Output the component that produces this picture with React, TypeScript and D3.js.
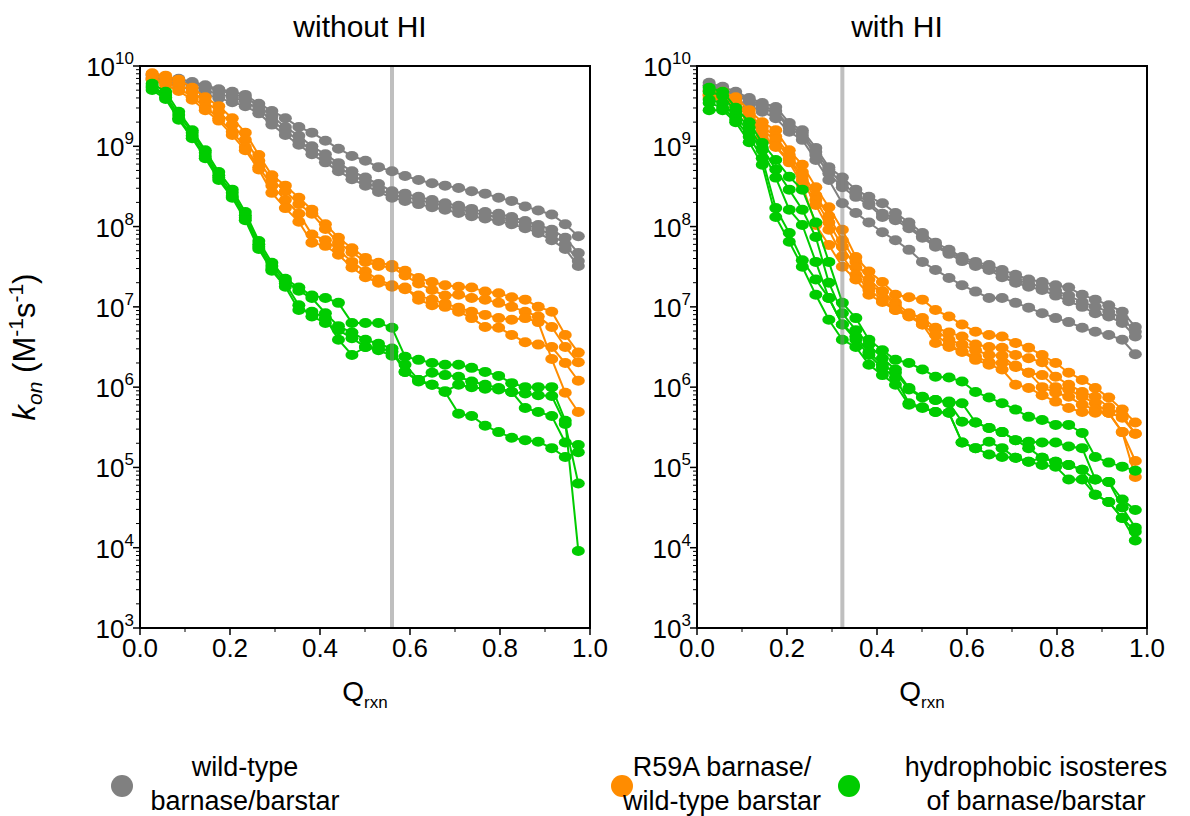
import * as d3 from 'd3'
import React from 'react'

// Q_rxn bin centres shared by all trajectories
const qBins = [0.027, 0.057, 0.086, 0.116, 0.145, 0.175, 0.205, 0.234, 0.264, 0.293, 0.323,
    0.353, 0.382, 0.412, 0.441, 0.471, 0.501, 0.530, 0.560, 0.589, 0.619, 0.649,
    0.678, 0.708, 0.737, 0.767, 0.797, 0.826, 0.856, 0.885, 0.915, 0.945, 0.974]

const panelTitles = ['without HI', 'with HI']
const cutoffs = [0.56, 0.323]
const xTicks = [0, 0.2, 0.4, 0.6, 0.8, 1.0]
const yExponents = [3, 4, 5, 6, 7, 8, 9, 10]

// log10(k_on), one row per trajectory -- without HI
const wtNoHI = [
    [9.89, 9.86, 9.84, 9.80, 9.76, 9.71, 9.68, 9.64, 9.53, 9.44, 9.35, 9.24, 9.17, 9.07, 8.97, 8.88, 8.82, 8.74, 8.69, 8.63, 8.58, 8.54, 8.51, 8.48, 8.44, 8.41, 8.36, 8.32, 8.25, 8.20, 8.15, 8.03, 7.88],
    [9.88, 9.85, 9.81, 9.78, 9.74, 9.70, 9.65, 9.61, 9.50, 9.37, 9.24, 9.13, 9.00, 8.90, 8.79, 8.69, 8.61, 8.53, 8.44, 8.41, 8.37, 8.33, 8.29, 8.26, 8.22, 8.18, 8.16, 8.12, 8.07, 8.02, 7.96, 7.86, 7.67],
    [9.85, 9.83, 9.79, 9.75, 9.70, 9.65, 9.61, 9.56, 9.46, 9.32, 9.19, 9.07, 8.95, 8.85, 8.74, 8.64, 8.56, 8.47, 8.39, 8.37, 8.33, 8.29, 8.26, 8.22, 8.18, 8.14, 8.12, 8.08, 8.03, 7.97, 7.90, 7.78, 7.57],
    [9.83, 9.79, 9.75, 9.70, 9.65, 9.60, 9.55, 9.50, 9.41, 9.27, 9.14, 9.02, 8.90, 8.80, 8.69, 8.59, 8.51, 8.43, 8.36, 8.32, 8.28, 8.24, 8.21, 8.17, 8.13, 8.10, 8.07, 8.03, 7.98, 7.92, 7.83, 7.72, 7.51],
]
const r59aNoHI = [
    [9.91, 9.88, 9.83, 9.73, 9.61, 9.50, 9.35, 9.17, 8.89, 8.64, 8.51, 8.36, 8.21, 8.03, 7.86, 7.73, 7.61, 7.55, 7.52, 7.45, 7.36, 7.31, 7.27, 7.25, 7.24, 7.19, 7.17, 7.12, 7.09, 7.00, 6.94, 6.65, 6.43],
    [9.89, 9.84, 9.78, 9.68, 9.56, 9.43, 9.27, 9.08, 8.82, 8.58, 8.44, 8.28, 8.16, 7.97, 7.80, 7.68, 7.56, 7.51, 7.49, 7.39, 7.29, 7.21, 7.14, 7.15, 7.11, 7.09, 7.05, 7.00, 6.94, 6.88, 6.75, 6.50, 6.31],
    [9.85, 9.79, 9.73, 9.61, 9.49, 9.35, 9.18, 8.99, 8.74, 8.51, 8.33, 8.16, 7.90, 7.83, 7.71, 7.56, 7.44, 7.34, 7.27, 7.24, 7.09, 7.02, 7.00, 6.94, 6.86, 6.75, 6.74, 6.65, 6.56, 6.53, 6.50, 6.30, 6.08],
    [9.83, 9.76, 9.69, 9.58, 9.45, 9.32, 9.14, 8.95, 8.71, 8.42, 8.23, 8.06, 7.80, 7.76, 7.65, 7.49, 7.37, 7.30, 7.25, 7.22, 7.14, 7.09, 7.04, 6.99, 6.94, 6.90, 6.86, 6.84, 6.86, 6.81, 6.35, 5.93, 5.69],
]
const hydroNoHI = [
    [9.78, 9.68, 9.43, 9.20, 8.95, 8.68, 8.46, 8.18, 7.82, 7.55, 7.35, 7.24, 7.14, 7.11, 7.05, 6.80, 6.80, 6.80, 6.74, 6.38, 6.34, 6.30, 6.28, 6.28, 6.24, 6.19, 6.14, 6.05, 6.00, 6.00, 6.00, 5.58, 3.96],
    [9.75, 9.64, 9.39, 9.17, 8.92, 8.64, 8.42, 8.14, 7.78, 7.51, 7.32, 7.20, 7.11, 6.92, 6.76, 6.68, 6.59, 6.54, 6.48, 6.19, 6.09, 6.18, 6.15, 6.13, 6.07, 6.03, 5.99, 5.94, 5.92, 5.90, 5.89, 5.54, 4.80],
    [9.73, 9.61, 9.35, 9.13, 8.88, 8.61, 8.38, 8.11, 7.75, 7.47, 7.29, 7.02, 6.88, 6.80, 6.71, 6.61, 6.50, 6.49, 6.44, 6.19, 6.07, 6.03, 5.95, 6.03, 6.00, 5.98, 5.97, 5.94, 5.74, 5.69, 5.64, 5.31, 5.28],
    [9.70, 9.59, 9.33, 9.10, 8.85, 8.58, 8.36, 8.08, 7.72, 7.45, 7.25, 6.96, 6.94, 6.86, 6.59, 6.40, 6.50, 6.46, 6.39, 6.28, 6.09, 6.03, 5.94, 5.67, 5.64, 5.52, 5.44, 5.37, 5.34, 5.32, 5.24, 5.13, 5.19],
]

// log10(k_on) -- with HI
const wtHI = [
    [9.79, 9.74, 9.68, 9.60, 9.54, 9.49, 9.29, 9.20, 8.98, 8.74, 8.61, 8.46, 8.37, 8.29, 8.17, 8.05, 7.92, 7.80, 7.71, 7.62, 7.56, 7.52, 7.46, 7.40, 7.34, 7.31, 7.27, 7.24, 7.15, 7.09, 7.02, 6.94, 6.75],
    [9.75, 9.70, 9.63, 9.56, 9.48, 9.41, 9.23, 9.13, 8.89, 8.66, 8.49, 8.37, 8.27, 8.12, 8.08, 7.98, 7.86, 7.75, 7.66, 7.57, 7.51, 7.46, 7.37, 7.30, 7.25, 7.21, 7.14, 7.07, 7.00, 6.92, 6.88, 6.80, 6.63],
    [9.70, 9.64, 9.58, 9.51, 9.43, 9.35, 9.18, 9.08, 8.83, 8.58, 8.29, 8.17, 8.05, 7.93, 7.83, 7.71, 7.56, 7.46, 7.36, 7.27, 7.19, 7.11, 7.11, 7.05, 6.99, 6.92, 6.86, 6.81, 6.74, 6.69, 6.65, 6.59, 6.41],
    [9.76, 9.71, 9.65, 9.58, 9.50, 9.44, 9.25, 9.17, 8.93, 8.71, 8.53, 8.41, 8.29, 8.16, 8.11, 8.01, 7.88, 7.77, 7.68, 7.60, 7.53, 7.49, 7.40, 7.34, 7.29, 7.25, 7.20, 7.14, 7.06, 7.00, 6.94, 6.86, 6.69],
]
const r59aHI = [
    [9.69, 9.68, 9.61, 9.45, 9.30, 9.20, 8.95, 8.77, 8.49, 8.24, 7.96, 7.62, 7.44, 7.31, 7.15, 7.12, 7.09, 6.96, 6.88, 6.78, 6.69, 6.65, 6.63, 6.55, 6.49, 6.40, 6.30, 6.18, 6.09, 5.99, 5.87, 5.72, 5.56],
    [9.65, 9.63, 9.56, 9.41, 9.24, 9.12, 8.89, 8.68, 8.39, 8.13, 7.83, 7.56, 7.34, 7.19, 7.05, 6.92, 6.86, 6.74, 6.68, 6.63, 6.53, 6.50, 6.49, 6.40, 6.36, 6.31, 6.13, 6.03, 5.94, 5.88, 5.75, 5.65, 5.42],
    [9.63, 9.60, 9.54, 9.38, 9.20, 9.08, 8.85, 8.63, 8.33, 8.05, 7.75, 7.49, 7.27, 7.19, 7.01, 6.89, 6.81, 6.71, 6.59, 6.53, 6.46, 6.40, 6.39, 6.25, 6.18, 6.15, 6.00, 5.97, 5.88, 5.80, 5.68, 5.44, 5.08],
    [9.60, 9.58, 9.50, 9.37, 9.14, 9.00, 8.83, 8.58, 8.27, 7.96, 7.63, 7.40, 7.21, 7.09, 6.96, 6.88, 6.78, 6.55, 6.50, 6.44, 6.38, 6.31, 6.30, 6.27, 6.18, 6.00, 5.93, 5.88, 5.78, 5.72, 5.68, 5.44, 4.88],
    [9.64, 9.60, 9.53, 9.37, 9.10, 8.99, 8.80, 8.52, 8.02, 7.77, 7.50, 7.34, 7.15, 7.06, 6.96, 6.90, 6.78, 6.65, 6.53, 6.44, 6.34, 6.28, 6.22, 6.03, 5.99, 5.90, 5.82, 5.74, 5.69, 5.68, 5.68, 5.62, 5.42],
]
const hydroHI = [
    [9.73, 9.68, 9.48, 9.30, 9.04, 8.83, 8.62, 8.46, 8.05, 7.56, 7.05, 6.86, 6.59, 6.46, 6.34, 6.30, 6.22, 6.13, 6.12, 6.07, 5.94, 5.87, 5.80, 5.72, 5.63, 5.59, 5.53, 5.53, 5.43, 5.13, 5.06, 5.01, 4.96],
    [9.68, 9.63, 9.43, 9.23, 8.98, 8.71, 8.46, 8.21, 7.87, 7.30, 6.92, 6.71, 6.53, 6.36, 6.22, 5.99, 5.88, 5.84, 5.82, 5.80, 5.56, 5.49, 5.44, 5.34, 5.32, 5.31, 5.31, 5.26, 5.24, 4.85, 4.82, 4.60, 4.47],
    [9.58, 9.54, 9.37, 9.18, 8.95, 8.61, 8.21, 8.02, 7.56, 7.11, 6.78, 6.63, 6.43, 6.28, 6.18, 5.97, 5.87, 5.84, 5.80, 5.57, 5.56, 5.49, 5.44, 5.34, 5.24, 5.12, 5.07, 5.03, 4.97, 4.85, 4.82, 4.50, 4.25],
    [9.54, 9.48, 9.33, 9.12, 8.85, 8.23, 7.92, 7.58, 7.34, 7.11, 6.78, 6.59, 6.40, 6.24, 6.12, 5.80, 5.75, 5.69, 5.68, 5.31, 5.24, 5.32, 5.24, 5.12, 5.07, 5.12, 5.07, 5.03, 4.97, 4.66, 4.57, 4.37, 4.20],
    [9.45, 9.45, 9.30, 9.05, 8.77, 8.12, 7.81, 7.50, 7.15, 6.84, 6.59, 6.50, 6.28, 6.15, 6.03, 5.78, 5.74, 5.69, 5.68, 5.31, 5.24, 5.16, 5.13, 5.12, 5.07, 5.03, 5.01, 4.85, 4.85, 4.66, 4.57, 4.37, 4.09],
]

const groupColors = ['#808080', '#ff8c00', '#00cc00']
const legendLabels = [
    ['wild-type', 'barnase/barstar'],
    ['R59A barnase/', 'wild-type barstar'],
    ['hydrophobic isosteres', 'of barnase/barstar'],
]

const font = '"Liberation Sans", Arial, sans-serif'
const plotTop = 66
const plotBottom = 628
const plotW = 450
const panelLeft = [140, 697]
const titleX = [360, 897]

function Panel({ left, groups, cutoff, title, tx }) {
    const x = d3.scaleLinear().domain([0, 1]).range([left, left + plotW])
    const y = d3.scaleLog().domain([1e3, 1e10]).range([plotBottom, plotTop])
    const line = d3.line<[number, number]>().x(d => x(d[0])).y(d => y(d[1]))

    const minorY: number[] = []
    for (let e = 3; e < 10; e++) for (let m = 2; m < 10; m++) minorY.push(m * Math.pow(10, e))
    const minorX = d3.range(0.1, 1, 0.2)

    return (
        <g>
            <text x={tx} y={37} fontSize={30} textAnchor="middle" fontFamily={font}>{title}</text>

            {groups.map((series, gi) => (
                <g key={gi}>
                    {series.map((row, si) => {
                        const pts = row.map((v, i) => [qBins[i], Math.pow(10, v)] as [number, number])
                        return (
                            <g key={si}>
                                <path d={line(pts)} fill="none" stroke={groupColors[gi]} strokeWidth={2} />
                                {pts.map((p, i) => (
                                    <ellipse key={i} cx={x(p[0])} cy={y(p[1])} rx={6.5} ry={5} fill={groupColors[gi]} />
                                ))}
                            </g>
                        )
                    })}
                </g>
            ))}

            {/* cutoff marker */}
            <line x1={x(cutoff)} x2={x(cutoff)} y1={plotTop} y2={plotBottom}
                stroke="#808080" strokeOpacity={0.5} strokeWidth={4} />

            <rect x={left} y={plotTop} width={plotW} height={plotBottom - plotTop}
                fill="none" stroke="#000" strokeWidth={2} />

            {/* y axis */}
            {minorY.map((v, i) => (
                <line key={i} x1={left - 4} x2={left} y1={y(v)} y2={y(v)} stroke="#000" strokeWidth={1} />
            ))}
            {yExponents.map(e => (
                <g key={e}>
                    <line x1={left - 7} x2={left} y1={y(Math.pow(10, e))} y2={y(Math.pow(10, e))} stroke="#000" strokeWidth={1.5} />
                    <text x={left - 6} y={y(Math.pow(10, e)) + 10} fontSize={26} textAnchor="end" fontFamily={font}>
                        10<tspan fontSize={17} dy={-12}>{e}</tspan>
                    </text>
                </g>
            ))}

            {/* x axis */}
            {minorX.map((v, i) => (
                <line key={i} x1={x(v)} x2={x(v)} y1={plotBottom} y2={plotBottom + 4} stroke="#000" strokeWidth={1} />
            ))}
            {xTicks.map(t => (
                <g key={t}>
                    <line x1={x(t)} x2={x(t)} y1={plotBottom} y2={plotBottom + 7} stroke="#000" strokeWidth={1.5} />
                    <text x={x(t)} y={plotBottom + 29} fontSize={26} textAnchor="middle" fontFamily={font}>{t.toFixed(1)}</text>
                </g>
            ))}
            <text x={left + plotW / 2} y={701} fontSize={28} textAnchor="middle" fontFamily={font}>
                Q<tspan fontSize={17} dy={7}>rxn</tspan>
            </text>
        </g>
    )
}

export default function App() {
    const panels = [
        [wtNoHI, r59aNoHI, hydroNoHI],
        [wtHI, r59aHI, hydroHI],
    ]
    const legendX = [122, 622, 849]
    const legendTextX = [245, 722, 1036]

    return (
        <svg width={1190} height={816} style={{ position: 'absolute', left: 0, top: 0, background: '#fff' }}>
            <rect width={1190} height={816} fill="#fff" />
            {panels.map((groups, pi) => (
                <Panel key={pi} left={panelLeft[pi]} groups={groups} cutoff={cutoffs[pi]}
                    title={panelTitles[pi]} tx={titleX[pi]} />
            ))}

            {/* y label */}
            <text transform="translate(35,347) rotate(-90)" fontSize={31} textAnchor="middle" fontFamily={font}>
                <tspan fontStyle="italic">k</tspan>
                <tspan fontStyle="italic" fontSize={21} dy={7}>on</tspan>
                <tspan dy={-7}> (M</tspan>
                <tspan fontSize={21} dy={-12}>-1</tspan>
                <tspan dy={12}>s</tspan>
                <tspan fontSize={21} dy={-12}>-1</tspan>
                <tspan dy={12}>)</tspan>
            </text>

            {/* legend */}
            {legendLabels.map((lines, i) => (
                <g key={i}>
                    <circle cx={legendX[i]} cy={786} r={11} fill={groupColors[i]} />
                    <text x={legendTextX[i]} y={776} fontSize={27} textAnchor="middle" fontFamily={font}>{lines[0]}</text>
                    <text x={legendTextX[i]} y={810} fontSize={27} textAnchor="middle" fontFamily={font}>{lines[1]}</text>
                </g>
            ))}
        </svg>
    )
}
